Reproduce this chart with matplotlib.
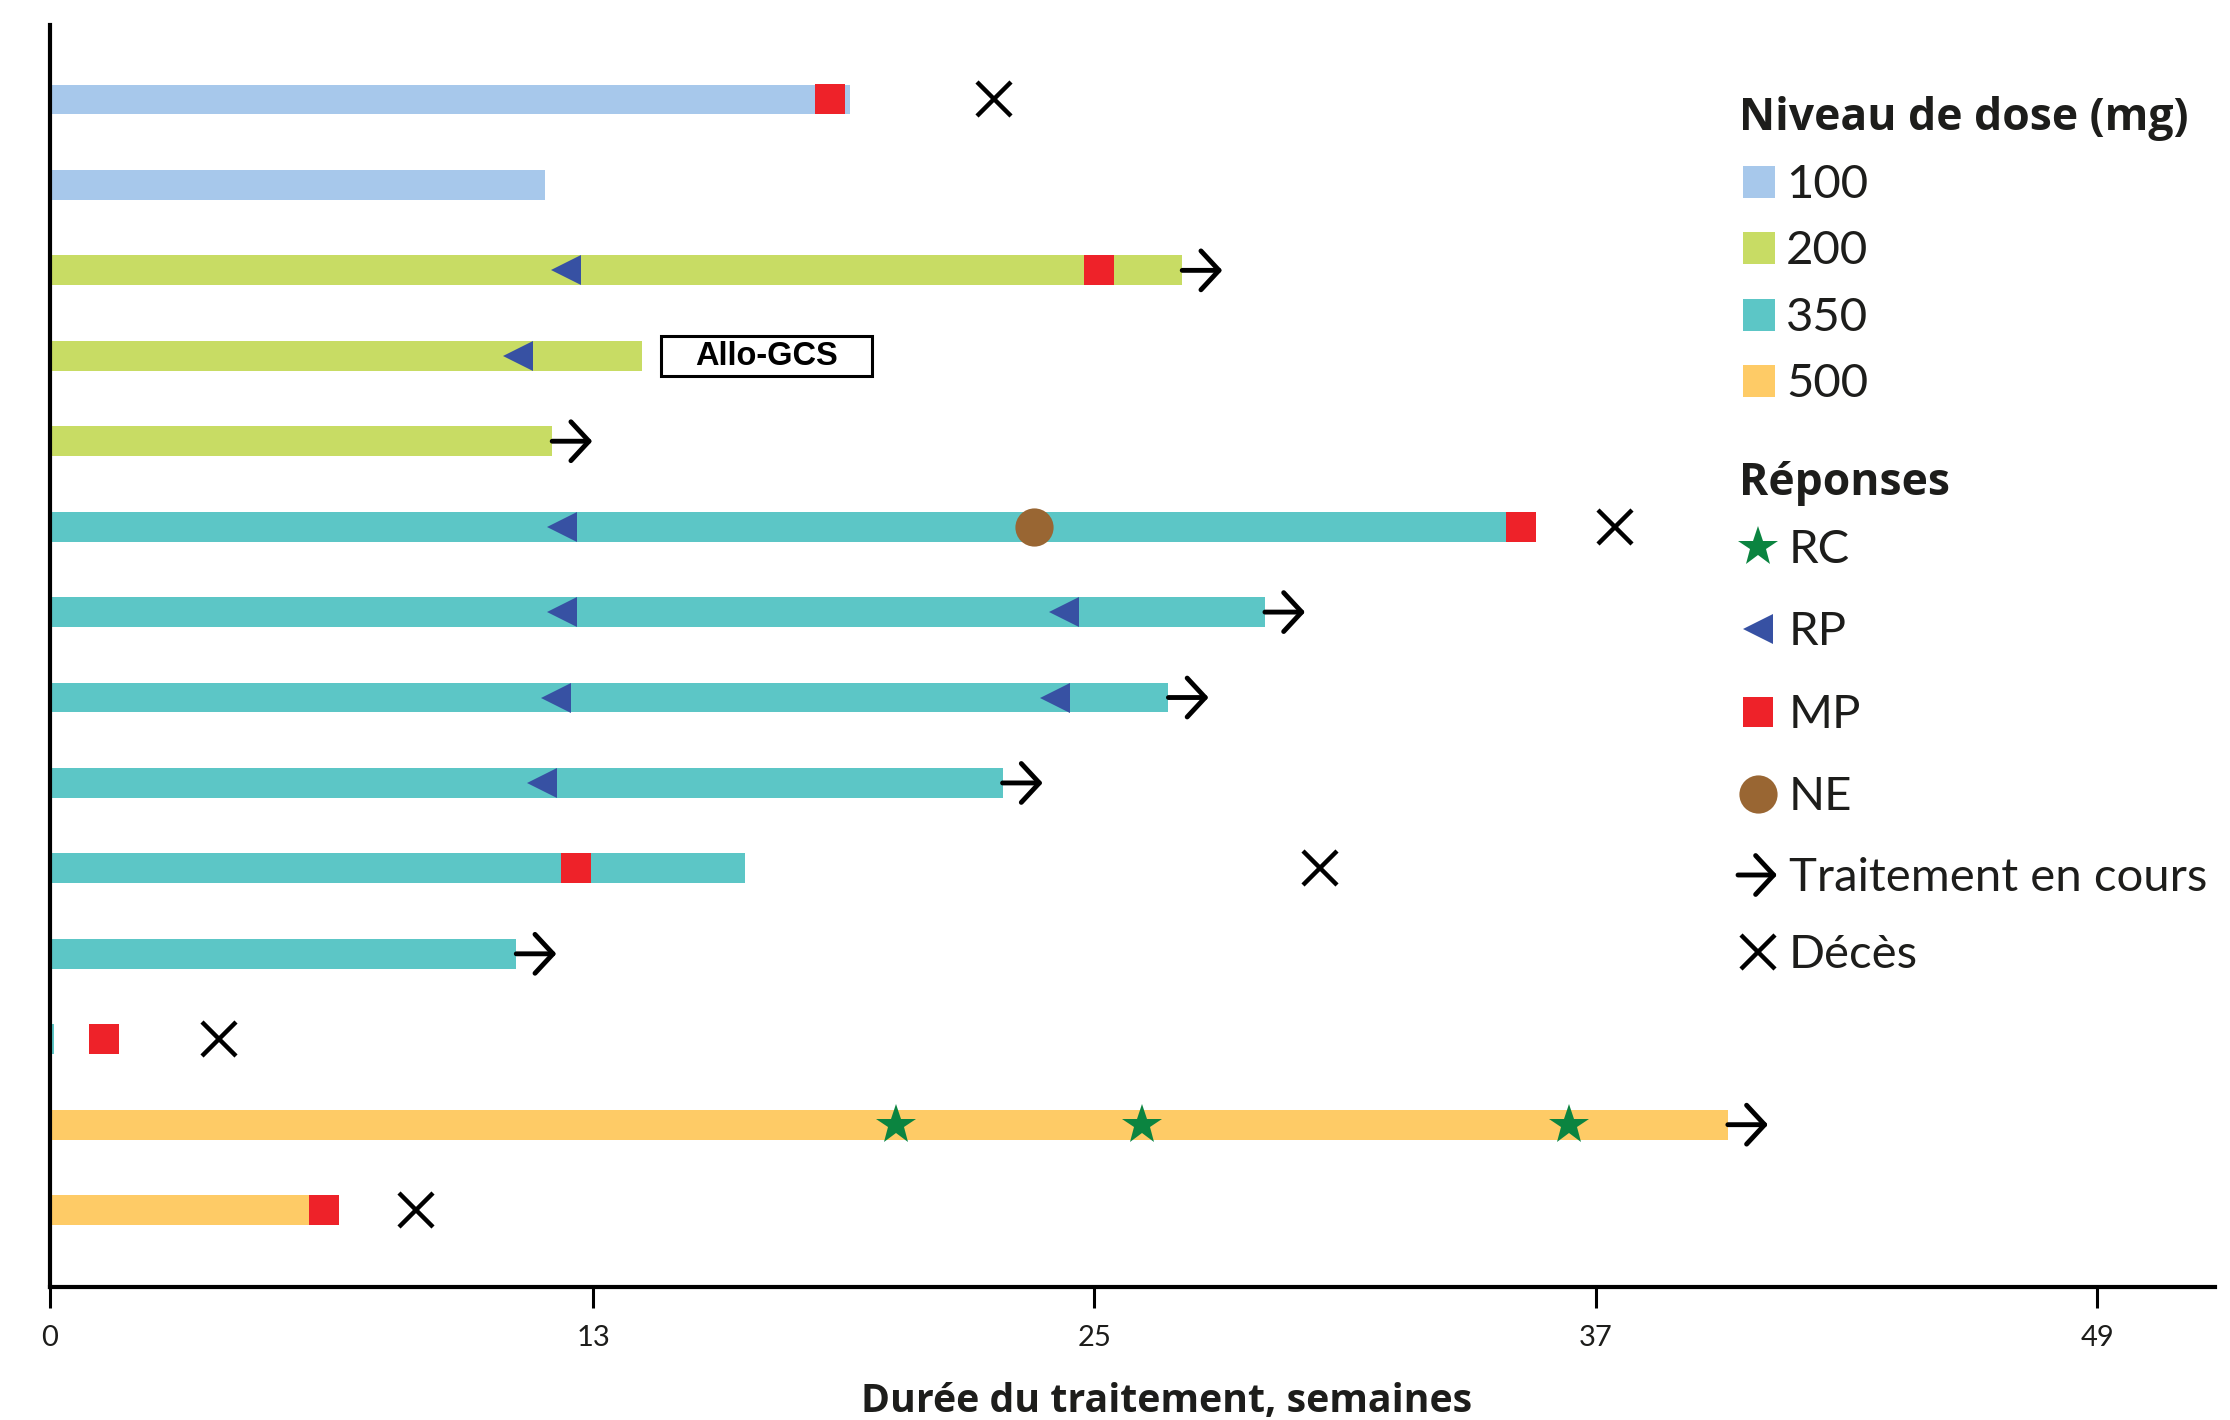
import numpy as np
import matplotlib.pyplot as plt
from matplotlib.patches import Rectangle

plt.rcParams['font.family'] = ['Lato', 'DejaVu Sans']
BOLD_FONT = ['Open Sans', 'DejaVu Sans']

# une ligne par patient, de haut en bas
dose = [100, 100, 200, 200, 200, 350, 350, 350, 350, 350, 350, 350, 500, 500]
duree = [19.15, 11.85, 27.1, 14.17, 12.02, 35.3, 29.08, 26.77, 22.8, 16.64, 11.16, 0.1, 40.16, 6.5]
en_cours = [False, False, True, False, True, False, True, True, True, False, True, False, True, False]

# reponses : (ligne, semaine)
rc = [(12, 20.25), (12, 26.13), (12, 36.35)]
rp = [(2, 12.35), (3, 11.2), (5, 12.25), (6, 12.25), (6, 24.27),
      (7, 12.1), (7, 24.06), (8, 11.77)]
mp = [(0, 18.67), (2, 25.1), (5, 35.2), (9, 12.6), (11, 1.29), (13, 6.56)]
ne = [(5, 23.55)]
deces = [(0, 22.6), (5, 37.46), (9, 30.4), (11, 4.04), (13, 8.76)]
allo_gcs = (3, 17.15)

dose_levels = [100, 200, 350, 500]
dose_colors = {100: '#A7C8EB', 200: '#C8DC64', 350: '#5CC6C6', 500: '#FECB66'}
xticks = [0, 13, 25, 37, 49]

RED = '#EE2229'
BLUE = '#3751A3'
GREEN = '#0B8440'
BROWN = '#996633'
INK = '#1d1d1b'

fig = plt.figure(figsize=(22.3, 14.2), dpi=100)
W, H = 2230, 1420
ax = fig.add_axes([50 / W, 1 - 1287 / H, (2215 - 50) / W, (1287 - 25) / H])

rows = np.arange(len(dose))
ax.barh(rows, duree, height=0.35, color=[dose_colors[d] for d in dose], lw=0, zorder=2)


def xy(points):
    return [p[1] for p in points], [p[0] for p in points]


styles = {
    'rc': dict(marker='*', ms=30, color=GREEN, mew=0),
    'rp': dict(marker='<', ms=21.5, color=BLUE, mew=0),
    'mp': dict(marker='s', ms=21, color=RED, mew=0),
    'ne': dict(marker='o', ms=27.5, color=BROWN, mew=0),
    'deces': dict(marker='x', ms=25, color='black', mew=3.2),
}
for key, pts in [('mp', mp), ('rp', rp), ('ne', ne), ('rc', rc), ('deces', deces)]:
    x, y = xy(pts)
    ax.plot(x, y, ls='none', zorder=4, **styles[key])

arrow_props = dict(arrowstyle='->,head_length=13,head_width=14', mutation_scale=1,
                   lw=3.5, color='black', shrinkA=0, shrinkB=0)
arrow_len = 0.96
for r, end, on in zip(rows, duree, en_cours):
    if on:
        ax.annotate('', xy=(end + arrow_len, r), xytext=(end, r), arrowprops=arrow_props, zorder=4)

# encadre Allo-GCS
ax.add_patch(Rectangle((allo_gcs[1] - 2.52, allo_gcs[0] - 0.235), 5.04, 0.47,
                       fc='white', ec='black', lw=2.2, zorder=3))
ax.text(allo_gcs[1], allo_gcs[0] + 0.01, 'Allo-GCS', ha='center', va='center',
        fontsize=23.5, fontweight='bold', color='black', zorder=5,
        family=['Liberation Sans', 'DejaVu Sans'])

ax.set_xlim(0, 51.82)
ax.set_ylim(13.90, -0.872)
ax.set_xticks(xticks)
ax.set_xticklabels([str(t) for t in xticks], fontsize=21, color=INK)
ax.tick_params(axis='x', length=15, width=2.2, pad=12, direction='out')
ax.set_yticks([])
for s in ['top', 'right']:
    ax.spines[s].set_visible(False)
for s in ['left', 'bottom']:
    ax.spines[s].set_linewidth(3)

fig.text(1167 / W, 1 - 1412 / H, 'Durée du traitement, semaines', ha='center', va='baseline',
         fontsize=28.3, fontweight='bold', color=INK, family=BOLD_FONT)

# legende dessinee a la main
lax = fig.add_axes([0, 0, 1, 1], facecolor='none')
lax.set_xlim(0, W)
lax.set_ylim(H, 0)
lax.axis('off')

lax.text(1739, 130, 'Niveau de dose (mg)', fontsize=32, fontweight='bold', color=INK,
         va='baseline', family=BOLD_FONT)
for i, d in enumerate(dose_levels):
    yb = 198 + i * 66.3
    lax.add_patch(Rectangle((1743, yb - 32), 32, 32, color=dose_colors[d], lw=0))
    lax.text(1786, yb, str(d), fontsize=34, color=INK, va='baseline')

lax.text(1739, 495, 'Réponses', fontsize=32, fontweight='bold', color=INK,
         va='baseline', family=BOLD_FONT)
resp_items = [('rc', 'RC', 563), ('rp', 'RP', 645), ('mp', 'MP', 728),
              ('ne', 'NE', 810), ('arrow', 'Traitement en cours', 891), ('deces', 'Décès', 968)]
for key, label, yb in resp_items:
    yc = yb - 16
    if key == 'arrow':
        lax.annotate('', xy=(1777, yc), xytext=(1738, yc), arrowprops=arrow_props)
    else:
        lax.plot([1758], [yc], ls='none', **styles[key])
    lax.text(1789, yb, label, fontsize=34, color=INK, va='baseline')

fig.savefig('out.png', dpi=100)
